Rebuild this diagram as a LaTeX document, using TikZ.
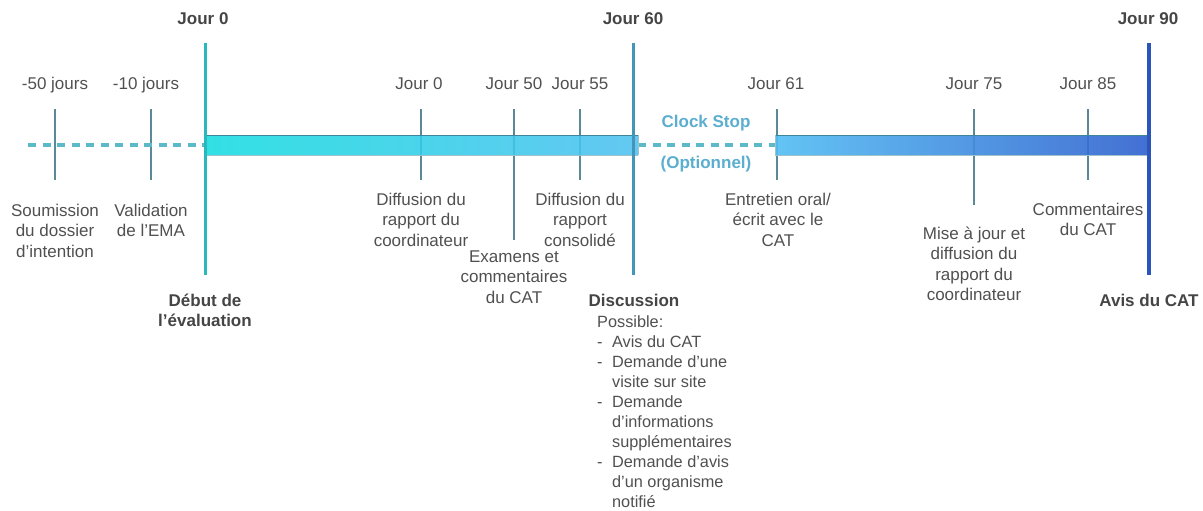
\documentclass[tikz,border=0pt]{standalone}
\usepackage{fontspec}
\setmainfont{Liberation Sans}
\usetikzlibrary{positioning}
\definecolor{txt}{HTML}{505050}
\definecolor{head}{HTML}{454545}
\definecolor{tickc}{HTML}{5A8A96}
\definecolor{dashc}{HTML}{5CBAC8}
\definecolor{stopc}{HTML}{5BAECF}
\definecolor{cyanA}{HTML}{16DCE0}
\definecolor{cyanB}{HTML}{4EC0F0}
\definecolor{blueA}{HTML}{52BDF3}
\definecolor{blueB}{HTML}{2F60CE}
\definecolor{edge}{HTML}{3E8597}
\tikzset{lbl/.style={font=\fontsize{17}{20.5}\selectfont,text=txt,align=center,inner sep=0pt,anchor=base},
  hd/.style={lbl,font=\fontsize{17}{20.5}\selectfont\bfseries,text=head},
  tk/.style={draw=tickc,line width=1.1pt},
  dashln/.style={draw=dashc,line width=3.2pt,dash pattern=on 8pt off 6.5pt},
  bigln/.style={line width=3pt}}

\begin{document}
\begin{tikzpicture}[x=1pt,y=-1pt]
\useasboundingbox (0,0) rectangle (1203,511);
\foreach \x/\b in {55/180,151/180,421/180,514/240,580/180,777/180,974/205,1088/180}{\draw[tk] (\x,109)--(\x,\b);}
\draw[dashln] (28,145)--(205,145);
\draw[dashln] (638,145)--(775,145);
\shade[left color=cyanA,right color=cyanB,opacity=.88] (205,135) rectangle (638,155);
\shade[left color=blueA,right color=blueB,opacity=.9] (775,135) rectangle (1150,155);
\draw[edge,line width=.8pt] (205,135)--(638,135) (775,135)--(1150,135);
\draw[edge!50,line width=.6pt] (205,155)--(638,155) (775,155)--(1150,155) (638,135)--(638,155) (775,135)--(775,155);
\draw[bigln,draw=cyanA!80!black!90] (205,43)--(205,275);
\draw[bigln,draw=cyanB!75!black!95] (633,43)--(633,275);
\draw[bigln,line width=3.6pt,draw=blueB!90!black] (1149,43)--(1149,275);
\node[hd] (j0) at (203,25) {Jour 0};
\node[hd] (j60) at (633,25) {Jour 60};
\node[hd] (j90) at (1148,25) {Jour 90};
\foreach \x/\t/\n in {55/-50 jours/m50,146/-10 jours/m10,419/Jour 0/d0,514/Jour 50/d50,580/Jour 55/d55,776/Jour 61/d61,974/Jour 75/d75,1088/Jour 85/d85}{\node[lbl] (\n) at (\x,89) {\t};}
\node[lbl] (soum) at (55,257) {Soumission\\du dossier\\d’intention};
\node[lbl] (valid) at (151,236.5) {Validation\\de l’EMA};
\node[lbl] (diffa) at (421,246) {Diffusion du\\rapport du\\coordinateur};
\node[lbl] (exam) at (514,303) {Examens et\\commentaires\\du CAT};
\node[lbl] (diffb) at (580,246) {Diffusion du\\rapport\\consolidé};
\node[lbl] (entr) at (778,246) {Entretien oral/\\écrit avec le\\CAT};
\node[lbl] (maj) at (974,300.5) {Mise à jour et\\diffusion du\\rapport du\\coordinateur};
\node[lbl] (comm) at (1088,235.5) {Commentaires\\du CAT};
\node[hd] (debut) at (205,326.5) {Début de\\l’évaluation};
\node[hd] (disc) at (634,306) {Discussion};
\node[hd] (avis) at (1149,306) {Avis du CAT};
\node[hd,text=stopc] (clk) at (706,128) {Clock Stop};
\node[hd,text=stopc] (opt) at (706,168) {(Optionnel)};
\node[lbl,anchor=base west,align=left,font=\fontsize{16.3}{20}\selectfont] (poss) at (597,327) {\begin{tabular}[t]{@{}l@{\hspace{9.5pt}}l@{}}
\multicolumn{2}{@{}l}{Possible:}\\
-&Avis du CAT\\
-&Demande d’une\\
&visite sur site\\
-&Demande\\
&d’informations\\
&supplémentaires\\
-&Demande d’avis\\
&d’un organisme\\
&notifié
\end{tabular}};
\end{tikzpicture}
\end{document}
